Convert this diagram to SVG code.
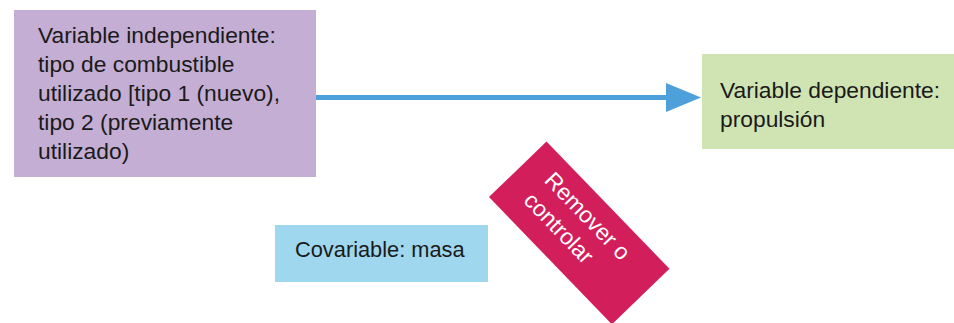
<svg xmlns="http://www.w3.org/2000/svg" width="954" height="323" viewBox="0 0 954 323">
  <style>
    .lbl { font-family: "Liberation Sans", Arial, sans-serif; font-size: 22.8px; fill: #1a1a1a; }
    .wht { font-family: "Liberation Sans", Arial, sans-serif; font-size: 22.8px; fill: #ffffff; }
    .conn { stroke: #4da0da; stroke-width: 5; fill: none; }
  </style>
  <defs>
    <marker id="arrow" markerUnits="userSpaceOnUse" viewBox="0 0 35 29" refX="2" refY="14.5" markerWidth="35" markerHeight="29" orient="auto">
      <path d="M0,0 L35,14.5 L0,29 Z" fill="#4da0da"/>
    </marker>
  </defs>
  <rect width="954" height="323" fill="#ffffff"/>

  <g id="connectors">
    <line class="conn" x1="316" y1="97.5" x2="668" y2="97.5" marker-end="url(#arrow)"/>
  </g>

  <g id="independiente">
    <rect x="14" y="10" width="302" height="167" fill="#c4aed4"/>
    <text class="lbl" x="38" y="43.3">Variable independiente:</text>
    <text class="lbl" x="38" y="72.2">tipo de combustible</text>
    <text class="lbl" x="38" y="101">utilizado [tipo 1 (nuevo),</text>
    <text class="lbl" x="38" y="129.9">tipo 2 (previamente</text>
    <text class="lbl" x="38" y="158.7">utilizado)</text>
  </g>

  <g id="dependiente">
    <rect x="702" y="54" width="252" height="95" fill="#cfe4b2"/>
    <text class="lbl" x="720" y="97.5">Variable dependiente:</text>
    <text class="lbl" x="720" y="126.5">propulsión</text>
  </g>

  <g id="covariable">
    <rect x="275" y="225" width="213" height="57" fill="#9ed7ee"/>
    <text class="lbl" x="295" y="257" style="font-size:21.8px">Covariable: masa</text>
  </g>

  <g id="remover" transform="translate(579.2 232.9) rotate(46)">
    <rect x="-88.5" y="-40" width="177" height="80" fill="#d31e5c"/>
    <text class="wht" x="-62" y="-10">Remover o</text>
    <text class="wht" x="-62" y="19">controlar</text>
  </g>
</svg>
